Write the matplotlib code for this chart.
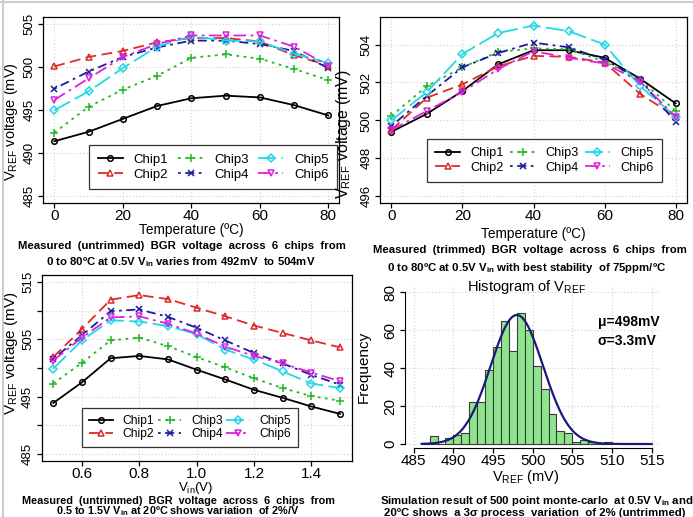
import numpy as np
import matplotlib
matplotlib.use("Agg")
import matplotlib.pyplot as plt
from matplotlib.ticker import FixedLocator, FixedFormatter

REG = ['Liberation Sans', 'DejaVu Sans']
plt.rcParams['font.family'] = REG
plt.rcParams['mathtext.fontset'] = 'custom'
plt.rcParams['mathtext.rm'] = 'Liberation Sans'
plt.rcParams['mathtext.it'] = 'Liberation Sans:italic'
plt.rcParams['mathtext.bf'] = 'Liberation Sans:bold'

# ---------------- data ----------------
chips = ['Chip1', 'Chip2', 'Chip3', 'Chip4', 'Chip5', 'Chip6']
temp = [0, 10, 20, 30, 40, 50, 60, 70, 80]
vin = [0.5, 0.6, 0.7, 0.8, 0.9, 1.0, 1.1, 1.2, 1.3, 1.4, 1.5]

# untrimmed vs temperature (mV)
untrim_t = [
    [491.4, 492.5, 494.0, 495.5, 496.4, 496.7, 496.5, 495.6, 494.4],
    [500.1, 501.2, 501.9, 502.9, 503.4, 503.4, 503.0, 501.4, 500.2],
    [492.4, 495.4, 497.4, 499.0, 501.1, 501.5, 501.0, 499.8, 498.5],
    [497.5, 499.5, 501.2, 502.3, 503.1, 503.1, 502.7, 501.9, 499.9],
    [495.0, 497.2, 499.9, 502.4, 503.6, 503.1, 503.0, 501.6, 500.5],
    [496.2, 498.7, 501.2, 502.7, 503.7, 503.7, 503.7, 502.4, 500.2],
]
# trimmed vs temperature (mV)
trim_t = [
    [499.4, 500.35, 501.55, 502.95, 503.7, 503.7, 503.3, 502.2, 500.9],
    [499.5, 501.2, 501.9, 502.85, 503.4, 503.35, 503.05, 501.4, 500.2],
    [500.25, 501.8, 502.8, 503.6, 503.8, 503.75, 503.1, 502.15, 500.5],
    [499.7, 501.3, 502.8, 503.55, 504.1, 503.85, 503.2, 502.15, 499.9],
    [500.0, 501.5, 503.5, 504.6, 505.0, 504.7, 504.0, 501.8, 500.2],
    [499.5, 500.5, 501.5, 502.7, 503.65, 503.3, 503.0, 502.05, 500.2],
]
# untrimmed vs Vin (mV)
untrim_v = [
    [493.9, 497.5, 501.7, 502.1, 501.5, 499.7, 498.0, 496.2, 494.8, 493.3, 492.0],
    [501.9, 506.8, 511.9, 512.7, 512.0, 510.5, 509.0, 507.4, 506.1, 504.8, 503.6],
    [497.3, 500.9, 504.8, 505.3, 503.8, 501.9, 500.1, 498.2, 496.5, 495.1, 494.3],
    [501.6, 505.7, 509.9, 510.2, 508.9, 507.0, 504.8, 502.6, 500.8, 498.8, 497.1],
    [499.9, 504.8, 508.3, 508.1, 507.3, 505.9, 503.2, 501.5, 499.4, 497.3, 496.5],
    [501.3, 505.3, 508.8, 509.0, 507.7, 506.0, 503.7, 502.1, 500.8, 499.2, 497.7],
]

# monte-carlo histogram, 1 mV bins
bin_left = list(range(486, 510))
bin_count = [0, 4, 0, 3, 5, 6, 22, 22, 39, 51, 65, 49, 69, 60, 41, 29, 16, 7, 6, 1, 2, 1, 0, 1]
mu, sigma, curve_peak = 498.0, 3.3, 68.0

# ---------------- styles ----------------
colors = ['black', '#DD2B2B', '#22B822', '#1C1C9C', '#22D8E8', '#DD22DD']
markers = ['o', '^', '+', 'x', 'D', 'v']
msizes = [4, 5, 6, 5, 4, 5]
dashes = ['-', (0, (6, 3)), (0, (1.5, 2.5)), (0, (1.5, 2.5, 5, 2.5)),
          (0, (10, 3)), (0, (7, 2.5, 1.5, 2.5))]
CAP = 8.2
CAP_LOW = 7.8

W, H = 693, 517
fig = plt.figure(figsize=(W / 100, H / 100), dpi=100)


def px_axes(x0, y0, x1, y1):
    return fig.add_axes([x0 / W, 1 - y1 / H, (x1 - x0) / W, (y1 - y0) / H])


def ftext(x, y, s, **kw):
    fig.text(x / W, 1 - y / H, s, ha='center', va='center', **kw)


def line_panel(ax, x, ys, xlim, ylim, xticks, yticks, ylabels, leg_xy,
               leg_size, colsp, bpad, lspace):
    for i in range(6):
        ax.plot(x, ys[i], color=colors[i], linestyle=dashes[i], lw=1.3,
                marker=markers[i], ms=msizes[i], mfc='none', mec=colors[i],
                mew=1.1, label=chips[i])
    ax.set_xlim(xlim)
    ax.set_ylim(ylim)
    ax.xaxis.set_major_locator(FixedLocator(xticks))
    ax.yaxis.set_major_locator(FixedLocator(yticks))
    ax.yaxis.set_major_formatter(FixedFormatter(ylabels))
    ax.grid(True, color='#d8d8d8', linestyle=':', lw=0.9)
    ax.tick_params(direction='out', length=3.5, width=0.9, pad=0.5)
    ax.tick_params(axis='x', labelsize=11)
    ax.tick_params(axis='y', labelsize=9.5, pad=2)
    for lab in ax.get_yticklabels():
        lab.set_rotation(90)
        lab.set_va('center')
    for sp in ax.spines.values():
        sp.set_linewidth(0.9)
    leg = ax.legend(ncol=3, loc='upper left',
                    bbox_to_anchor=(leg_xy[0] / W, 1 - leg_xy[1] / H),
                    bbox_transform=fig.transFigure, borderaxespad=0,
                    prop=dict(size=leg_size), handlelength=1.95,
                    handletextpad=0.8, columnspacing=colsp,
                    labelspacing=lspace, borderpad=bpad, fancybox=False,
                    framealpha=1, edgecolor='#333333', numpoints=1)
    leg.get_frame().set_linewidth(0.9)


vref_lab = r'V$_{\mathrm{REF}}$ voltage (mV)'

# ---- top left: untrimmed vs temperature ----
ax1 = px_axes(43.3, 17.4, 339.3, 203.2)
line_panel(ax1, temp, untrim_t, (-3.2, 83.2), (484.2, 505.8),
           [0, 20, 40, 60, 80], [485, 490, 495, 500, 505],
           ['485', '490', '495', '500', '505'], (89, 145),
           9.5, 0.7, 0.65, 0.2)
ax1.set_ylabel(vref_lab, fontsize=10.5)
ax1.yaxis.set_label_coords(-0.079, 0.44)
ftext(191, 230, 'Temperature (ºC)', fontsize=9.8)
ftext(182, 246, 'Measured  (untrimmed)  BGR  voltage  across  6  chips  from',
      fontsize=CAP, weight='bold')
ftext(181, 262, r'0 to 80ºC at 0.5V V$_{\mathbf{in}}$ varies from 492mV  to 504mV',
      fontsize=CAP, weight='bold')

# ---- top right: trimmed vs temperature ----
ax2 = px_axes(380, 17, 687, 203)
line_panel(ax2, temp, trim_t, (-3.2, 83.2), (495.65, 505.45),
           [0, 20, 40, 60, 80], [496, 498, 500, 502, 504],
           ['496', '498', '500', '502', '504'], (427, 139),
           9.2, 0.5, 0.65, 0.2)
ax2.set_ylabel(vref_lab, fontsize=11.5)
ax2.yaxis.set_label_coords(-0.088, 0.37)
ftext(533.5, 234, 'Temperature (ºC)', fontsize=9.8)
ftext(530, 250, 'Measured  (trimmed)  BGR  voltage  across  6  chips  from',
      fontsize=CAP, weight='bold')
ftext(527, 268, r'0 to 80ºC at 0.5V V$_{\mathbf{in}}$ with best stability  of 75ppm/ºC',
      fontsize=CAP, weight='bold')

# ---- bottom left: untrimmed vs Vin ----
ax3 = px_axes(41.8, 275, 351.5, 461)
line_panel(ax3, vin, untrim_v, (0.46, 1.54), (483.8, 516.2),
           [0.6, 0.8, 1.0, 1.2, 1.4], [485, 490, 495, 500, 505, 510, 515],
           ['485', '', '495', '', '505', '', '515'], (82, 408),
           8.7, 0.3, 0.6, 0.05)
ax3.set_xticklabels(['0.6', '0.8', '1.0', '1.2', '1.4'])
ax3.set_ylabel(vref_lab, fontsize=11)
ax3.yaxis.set_label_coords(-0.070, 0.58)
ftext(196, 487.5, r'V$_{\mathrm{in}}$(V)', fontsize=9.5)
ftext(178, 500.5, 'Measured  (untrimmed)  BGR  voltage  across  6  chips  from',
      fontsize=CAP_LOW, weight='bold')
ftext(178, 511.5, r'0.5 to 1.5V V$_{\mathbf{in}}$ at 20ºC shows variation  of 2%/V',
      fontsize=CAP_LOW, weight='bold')

# ---- bottom right: histogram ----
ax4 = px_axes(405, 285, 660, 448)
ax4.bar(bin_left, bin_count, width=1, align='edge', color='#8EE58E',
        edgecolor='#3a3a3a', lw=0.8, zorder=2)
xc = np.linspace(486, 515, 300)
ax4.plot(xc, curve_peak * np.exp(-(xc - mu) ** 2 / (2 * sigma ** 2)),
         color='#1A1A78', lw=1.6, zorder=3)
ax4.set_xlim(483.9, 516.05)
ax4.set_ylim(-2.1, 83.8)
for s in ['top', 'right']:
    ax4.spines[s].set_visible(False)
ax4.spines['left'].set_bounds(0, 80)
ax4.spines['bottom'].set_bounds(485, 515)
ax4.set_xticks([485, 490, 495, 500, 505, 510, 515])
ax4.set_yticks([0, 20, 40, 60, 80])
ax4.grid(True, color='#d8d8d8', linestyle=':', lw=0.9, zorder=0)
ax4.set_axisbelow(True)
ax4.tick_params(direction='out', length=3.5, width=0.9, pad=1)
ax4.tick_params(axis='x', labelsize=11)
ax4.tick_params(axis='y', labelsize=11, pad=2)
for lab in ax4.get_yticklabels():
    lab.set_rotation(90)
    lab.set_va('center')
ax4.set_ylabel('Frequency', fontsize=11)
ax4.yaxis.set_label_coords(-0.133, 0.5)
ftext(526, 477, r'V$_{\mathrm{REF}}$ (mV)', fontsize=10.5)
ftext(526, 287, r'Histogram of V$_{\mathrm{REF}}$', fontsize=10.5)
fig.text(598 / W, 1 - 322 / H, 'μ=498mV', ha='left', va='center',
         fontsize=10, weight='bold')
fig.text(598 / W, 1 - 341 / H, 'σ=3.3mV', ha='left', va='center',
         fontsize=10, weight='bold')
ftext(537, 500.5, r'Simulation result of 500 point monte-carlo  at 0.5V V$_{\mathbf{in}}$ and',
      fontsize=CAP, weight='bold')
ftext(535, 512.5, '20ºC shows  a 3σ process  variation  of 2% (untrimmed)',
      fontsize=CAP, weight='bold')

# light frame around the figure
fig.add_artist(plt.Line2D([0, 1], [1 - 1.5 / H, 1 - 1.5 / H], color='#cccccc', lw=1.5))
fig.add_artist(plt.Line2D([2.5 / W, 2.5 / W], [0, 1], color='#cccccc', lw=1.5))

fig.savefig('out.png', dpi=100)
